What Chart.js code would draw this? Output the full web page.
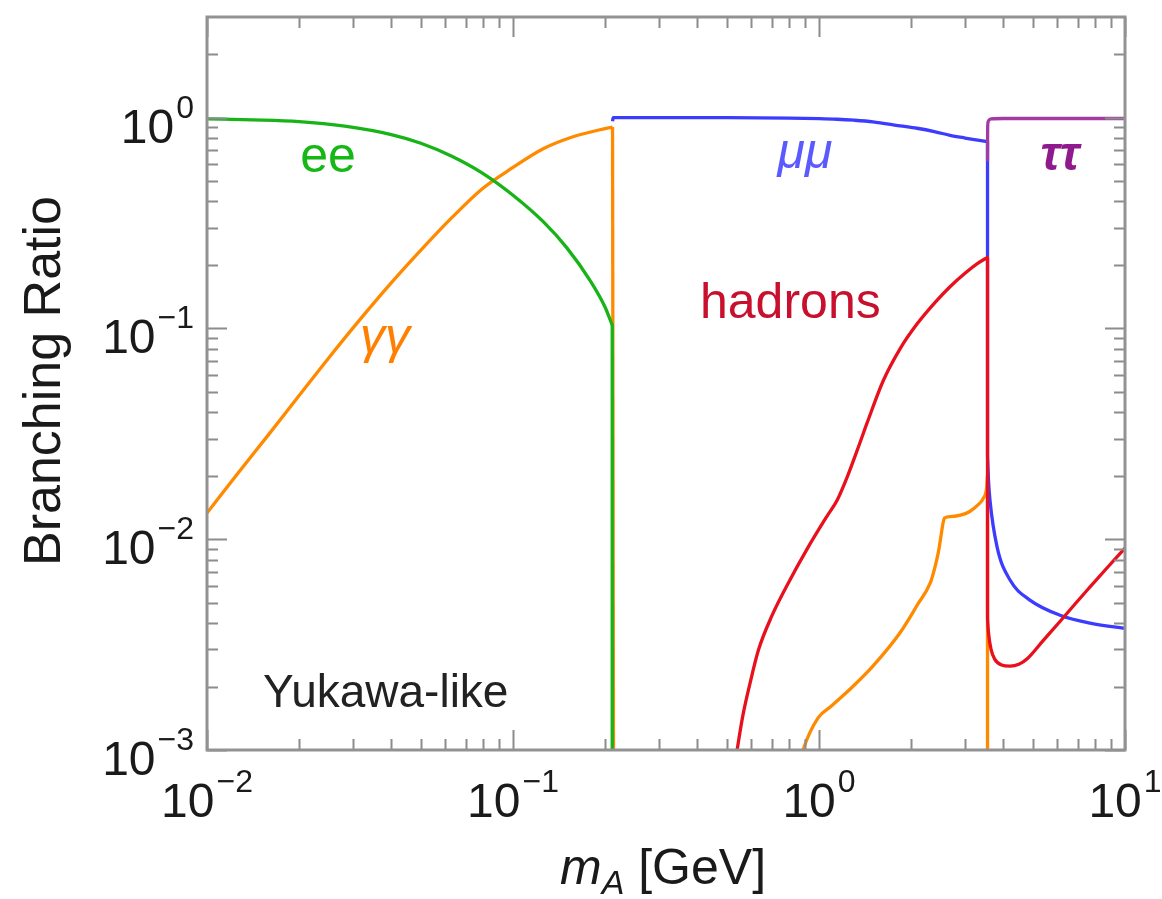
<!DOCTYPE html>
<html>
<head>
<meta charset="utf-8">
<script src="https://cdn.jsdelivr.net/npm/chart.js@4.4.1/dist/chart.umd.min.js"></script>
<style>
  html, body { margin: 0; padding: 0; background: #fff; }
  #wrap { width: 1162px; height: 899px; }
</style>
</head>
<body>
<div id="wrap"><canvas id="myChart" width="1162" height="899"></canvas></div>
<script>
// Branching ratios of a light pseudoscalar A (Yukawa-like couplings)
// masses in GeV; 1e-4 means "off the bottom of the plot"

// ee
const eeMass = [0.01, 0.0141, 0.02, 0.0282, 0.04, 0.05, 0.0631, 0.0794, 0.1, 0.126, 0.15, 0.178, 0.2, 0.211];
const eeBR   = [0.987, 0.976, 0.957, 0.91, 0.83, 0.755, 0.655, 0.545, 0.428, 0.319, 0.241, 0.17, 0.126, 0.1035];
const eeDropMass = [0.211, 0.211];
const eeDropBR   = [0.1035, 0.0001];

// gamma gamma, below and above the muon threshold
const ggMassLow = [0.01, 0.0126, 0.0158, 0.02, 0.0251, 0.0316, 0.0398, 0.05, 0.0631, 0.0794, 0.1, 0.126, 0.158, 0.2, 0.2115];
const ggBRLow   = [0.0133, 0.0205, 0.031, 0.048, 0.073, 0.11, 0.163, 0.235, 0.335, 0.46, 0.58, 0.713, 0.813, 0.887, 0.902];
const ggDropLowMass = [0.2115, 0.2135];
const ggDropLowBR   = [0.902, 0.0001];

const ggMassHigh = [0.8, 0.887, 0.993, 1.1, 1.29, 1.5, 1.84, 2.1, 2.31, 2.4, 2.46, 2.5, 2.54, 2.57, 2.7, 2.9, 3.1, 3.3, 3.45, 3.53, 3.554];
const ggBRHigh   = [0.00055, 0.001, 0.00142, 0.00162, 0.002, 0.0025, 0.0036, 0.0049, 0.0062, 0.0075, 0.0088, 0.0102, 0.0118, 0.0126, 0.0128, 0.013, 0.0135, 0.0145, 0.0157, 0.0175, 0.02];
const ggDropHighMass = [3.554, 3.554];
const ggDropHighBR   = [0.02, 0.0001];

// mu mu
const mumuMass = [0.2115, 0.2125, 0.3, 0.5, 0.8, 1.0, 1.145, 1.3, 1.5, 1.84, 2.09, 2.4, 2.68, 3.0, 3.3, 3.554];
const mumuBR   = [0.96, 1.0, 1.0, 0.999, 0.994, 0.988, 0.982, 0.972, 0.955, 0.914, 0.89, 0.856, 0.824, 0.8, 0.782, 0.768];
const mumuDropMass = [3.554, 3.554];
const mumuDropBR   = [0.768, 0.025];
const mumuTailMass = [3.554, 3.58, 3.62, 3.82, 4.21, 4.89, 6.13, 7.69, 9.85, 10];
const mumuTailBR   = [0.025, 0.019, 0.0153, 0.00917, 0.0064, 0.00514, 0.00436, 0.004, 0.00379, 0.00378];

// hadrons
const hadMass = [0.52, 0.54, 0.563, 0.595, 0.634, 0.7, 0.794, 0.911, 1.06, 1.146, 1.236, 1.36, 1.437, 1.62, 1.84, 2.09, 2.4, 2.68, 3.0, 3.3, 3.49, 3.554];
const hadBR   = [0.0007, 0.001, 0.00144, 0.00207, 0.00298, 0.0043, 0.0062, 0.0089, 0.0128, 0.0153, 0.0197, 0.0286, 0.0357, 0.0563, 0.08, 0.1048, 0.1332, 0.1576, 0.1826, 0.2033, 0.2139, 0.217];
const hadDropMass = [3.554, 3.554];
const hadDropBR   = [0.217, 0.0042];
const hadTailMass = [3.554, 3.58, 3.65, 3.75, 3.95, 4.21, 4.5, 4.78, 5.4, 6.13, 6.9, 7.69, 8.7, 10];
const hadTailBR   = [0.0042, 0.0036, 0.003, 0.0027, 0.00253, 0.0025, 0.00255, 0.0027, 0.0033, 0.00407, 0.00497, 0.00594, 0.00726, 0.00906];

// tau tau
const tautauMass = [3.554, 3.556, 3.56, 3.58, 3.65, 4.0, 10];
const tautauBR   = [0.62, 0.8, 0.92, 0.965, 0.985, 0.99, 0.99];

// axis ticks: decades (exponents) get a "10^n" label, 2..9 are minor ticks
const xTickExps = [-2, -1, 0, 1];
const yTickExps = [-3, -2, -1, 0];
const minorSteps = [2, 3, 4, 5, 6, 7, 8, 9];

const xMin = 0.01, xMax = 10, yMin = 0.001, yMax = 3;

const FONT = '"Liberation Sans", Arial, Helvetica, sans-serif';

const GREEN = '#17b317', ORANGE = '#ff8a00', BLUE = '#3c3cff', RED = '#e8101c', PURPLE = '#a23ca2';

function toPoints(xs, ys) {
    return xs.map((v, i) => ({ x: v, y: ys[i] }));
}

function logTicks(exps, max) {
    const ticks = [];
    exps.forEach(e => {
        const base = Math.pow(10, e);
        ticks.push({ value: base, major: true, exp: e });
        minorSteps.forEach(m => {
            const v = m * base;
            if (v < max - 1e-9) ticks.push({ value: v, major: false });
        });
    });
    return ticks;
}

// smooth = monotone spline through the points, otherwise straight segments
function curve(label, xs, ys, color, smooth) {
    const ds = {
        label: label,
        data: toPoints(xs, ys),
        borderColor: color,
        borderWidth: 3.3,
        pointRadius: 0,
        fill: false,
        tension: 0,
        borderJoinStyle: 'round',
        borderCapStyle: 'butt'
    };
    if (smooth) ds.cubicInterpolationMode = 'monotone';
    return ds;
}

// draws "10" with a raised exponent
function drawPower(ctx, exp, x, baseline, align) {
    const base = '10';
    const sup = exp < 0 ? '\u2212' + (-exp) : String(exp);
    ctx.font = '48px ' + FONT;
    const wb = ctx.measureText(base).width;
    ctx.font = '32px ' + FONT;
    const ws = ctx.measureText(sup).width;
    const total = wb + 2 + ws;
    const left = align === 'right' ? x - total : x - total / 2;
    ctx.textAlign = 'left';
    ctx.textBaseline = 'alphabetic';
    ctx.font = '48px ' + FONT;
    ctx.fillText(base, left, baseline);
    ctx.font = '32px ' + FONT;
    ctx.fillText(sup, left + wb + 2, baseline - 25);
}

const frameTicks = {
    id: 'frameTicks',
    afterDraw(chart) {
        const ctx = chart.ctx;
        const a = chart.chartArea;
        const xs = chart.scales.x, ys = chart.scales.y;
        ctx.save();

        // inward ticks on all four sides
        ctx.strokeStyle = '#8c8c8c';
        ctx.lineWidth = 2;
        ctx.beginPath();
        xs.ticks.forEach(t => {
            const px = Math.round(xs.getPixelForValue(t.value)) + 0.5;
            const len = t.major ? 20 : 11;
            ctx.moveTo(px, a.bottom); ctx.lineTo(px, a.bottom - len);
            ctx.moveTo(px, a.top); ctx.lineTo(px, a.top + len);
        });
        ys.ticks.forEach(t => {
            const py = Math.round(ys.getPixelForValue(t.value)) + 0.5;
            const len = t.major ? 20 : 11;
            ctx.moveTo(a.left, py); ctx.lineTo(a.left + len, py);
            ctx.moveTo(a.right, py); ctx.lineTo(a.right - len, py);
        });
        ctx.stroke();

        // frame
        ctx.strokeStyle = '#929292';
        ctx.lineWidth = 3;
        ctx.strokeRect(a.left, a.top, a.right - a.left, a.bottom - a.top);

        // tick labels
        ctx.fillStyle = '#1a1a1a';
        xs.ticks.filter(t => t.major).forEach(t => {
            drawPower(ctx, t.exp, xs.getPixelForValue(t.value), a.bottom + 67, 'center');
        });
        ys.ticks.filter(t => t.major).forEach(t => {
            drawPower(ctx, t.exp, a.left - 13, ys.getPixelForValue(t.value) + 25, 'right');
        });

        // axis titles
        ctx.save();
        ctx.translate(60, 381);
        ctx.rotate(-Math.PI / 2);
        ctx.font = '52px ' + FONT;
        ctx.textAlign = 'center';
        ctx.fillText('Branching Ratio', 0, 0);
        ctx.restore();

        ctx.textAlign = 'left';
        let tx = 560;
        const tb = 884;
        ctx.font = 'italic 50px ' + FONT;
        ctx.fillText('m', tx, tb);
        tx += ctx.measureText('m').width;
        ctx.font = 'italic 34px ' + FONT;
        ctx.fillText('A', tx, tb + 10);
        tx += ctx.measureText('A').width;
        ctx.font = '50px ' + FONT;
        ctx.fillText(' [GeV]', tx, tb);

        // curve labels
        const notes = [
            { text: 'ee', x: 328, y: 172, font: '50px ', color: '#16b816', align: 'center' },
            { text: '\u03b3\u03b3', x: 385, y: 353, font: 'italic 50px ', color: '#ff8000', align: 'center' },
            { text: '\u03bc\u03bc', x: 805, y: 168, font: 'italic 50px ', color: '#5a5aff', align: 'center' },
            { text: '\u03c4\u03c4', x: 1060, y: 170, font: 'bold italic 48px ', color: '#8e1a8e', align: 'center' },
            { text: 'hadrons', x: 700, y: 318, font: '50px ', color: '#c8102e', align: 'left' },
            { text: 'Yukawa-like', x: 263, y: 707, font: '46px ', color: '#222222', align: 'left' }
        ];
        notes.forEach(n => {
            ctx.font = n.font + FONT;
            ctx.fillStyle = n.color;
            ctx.textAlign = n.align;
            ctx.fillText(n.text, n.x, n.y);
        });

        ctx.restore();
    }
};

const config = {
    type: 'line',
    data: {
        datasets: [
            // index 0 is drawn on top
            curve('\u03c4\u03c4', tautauMass, tautauBR, PURPLE, true),
            curve('hadrons', hadMass, hadBR, RED, true),
            curve('hadrons drop', hadDropMass, hadDropBR, RED, false),
            curve('hadrons tail', hadTailMass, hadTailBR, RED, true),
            curve('\u03bc\u03bc', mumuMass, mumuBR, BLUE, true),
            curve('\u03bc\u03bc drop', mumuDropMass, mumuDropBR, BLUE, false),
            curve('\u03bc\u03bc tail', mumuTailMass, mumuTailBR, BLUE, true),
            curve('ee', eeMass, eeBR, GREEN, true),
            curve('ee drop', eeDropMass, eeDropBR, GREEN, false),
            curve('\u03b3\u03b3', ggMassLow, ggBRLow, ORANGE, true),
            curve('\u03b3\u03b3 drop', ggDropLowMass, ggDropLowBR, ORANGE, false),
            curve('\u03b3\u03b3 high', ggMassHigh, ggBRHigh, ORANGE, true),
            curve('\u03b3\u03b3 high drop', ggDropHighMass, ggDropHighBR, ORANGE, false)
        ]
    },
    options: {
        responsive: false,
        animation: false,
        layout: { padding: { top: 17, right: 37, left: 0, bottom: 0 } },
        scales: {
            x: {
                type: 'logarithmic',
                min: xMin,
                max: xMax,
                grid: { display: false },
                border: { display: false },
                ticks: { display: false },
                afterBuildTicks: scale => { scale.ticks = logTicks(xTickExps, xMax + 1); },
                afterFit: scale => { scale.height = 149; }
            },
            y: {
                type: 'logarithmic',
                min: yMin,
                max: yMax,
                grid: { display: false },
                border: { display: false },
                ticks: { display: false },
                afterBuildTicks: scale => { scale.ticks = logTicks(yTickExps, yMax); },
                afterFit: scale => { scale.width = 207; }
            }
        },
        plugins: {
            legend: { display: false },
            tooltip: { enabled: false }
        }
    },
    plugins: [frameTicks]
};

const ctx = document.getElementById('myChart').getContext('2d');
new Chart(ctx, config);
</script>
</body>
</html>
